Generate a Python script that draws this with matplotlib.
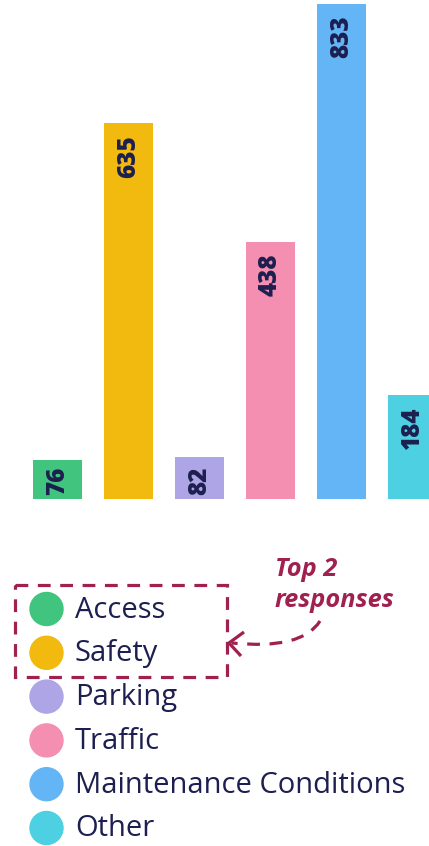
import matplotlib
matplotlib.use('Agg')
from matplotlib import pyplot as plt
from matplotlib.patches import Circle, Rectangle, PathPatch
from matplotlib.path import Path

categories = ['Access', 'Safety', 'Parking', 'Traffic', 'Maintenance Conditions', 'Other']
counts = [76, 635, 82, 438, 833, 184]
colors = ['#40c47e', '#f2b90f', '#ada5e5', '#f48fb1', '#64b5f6', '#4dd0e1']
note_text = 'Top 2\nresponses'

navy = '#1c1f4f'
maroon = '#a0214f'
plt.rcParams['font.family'] = ['Open Sans', 'DejaVu Sans']

fig = plt.figure(figsize=(4.29, 8.46), dpi=100)

# bar area
ax = fig.add_axes([0, 0.4105, 1, 0.5895])
x = range(len(categories))
ax.bar(x, counts, width=0.69, color=colors)
ax.set_xlim(-0.81, 5.232)
ax.set_ylim(12, 839.6)
ax.axis('off')
for i, v in enumerate(counts):
    if v < 100:
        ax.annotate(str(v), (i, 0), xycoords=('data', 'axes fraction'),
                    xytext=(0, 3), textcoords='offset points',
                    rotation=90, ha='center', va='bottom',
                    fontsize=17.5, fontweight=800, color=navy)
    else:
        ax.annotate(str(v), (i, v), xytext=(0, -8.5), textcoords='offset points',
                    rotation=90, ha='center', va='top',
                    fontsize=17.5, fontweight=800, color=navy)

# overlay in pixel units for legend and note
ov = fig.add_axes([0, 0, 1, 1])
ov.set_xlim(0, 429)
ov.set_ylim(846, 0)
ov.axis('off')

row_y = 609
for name, c in zip(categories, colors):
    ov.add_patch(Circle((46.5, row_y), 16.5, color=c))
    ov.text(75, row_y + 1, name, fontsize=21, color=navy, va='center', ha='left')
    row_y += 43.8

ov.add_patch(Rectangle((15, 585), 212, 92, fill=False, edgecolor=maroon,
                       linewidth=2.3, linestyle=(0, (4, 3))))

ov.text(275, 557, note_text, fontsize=18.3, fontweight='bold', fontstyle='italic',
        color=maroon, ha='left', va='top', linespacing=1.32)

curve = Path([(320, 621), (302, 650), (232, 643)], [Path.MOVETO, Path.CURVE3, Path.CURVE3])
ov.add_patch(PathPatch(curve, fill=False, edgecolor=maroon, linewidth=2.3,
                       linestyle=(0, (4, 3))))
ov.plot([244, 229, 241], [632, 643, 656], color=maroon, linewidth=2.3,
        solid_capstyle='butt', solid_joinstyle='miter')

fig.savefig('out.png', dpi=100)
